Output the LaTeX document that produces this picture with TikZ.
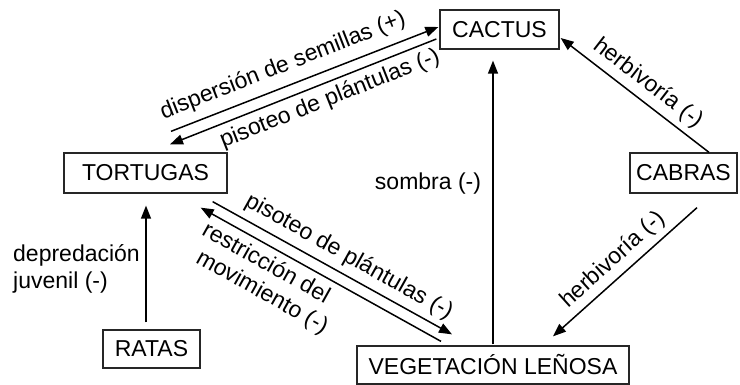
\documentclass[tikz,border=0pt]{standalone}
\usepackage{fontspec}
\setmainfont{Liberation Sans}
\usetikzlibrary{arrows.meta}
\begin{document}
\begin{tikzpicture}[x=1pt,y=-1pt,
  box/.style={draw=black!85, line width=1.3pt, inner sep=0pt},
  conn/.style={line width=1.5pt, -{Triangle[length=13pt,width=10pt]}},
  lbl/.style={inner sep=0pt},
  every node/.style={font=\fontsize{23}{27}\selectfont}]
\useasboundingbox (0,0) rectangle (740,385);
% nodes
\node[box, minimum width=119pt, minimum height=39pt] (cactus) at (499.5,29.5) {CACTUS};
\node[box, minimum width=163pt, minimum height=40pt] (tort) at (145.5,173) {TORTUGAS};
\node[box, minimum width=97pt, minimum height=38pt] (ratas) at (151.5,349) {RATAS};
\node[box, minimum width=272pt, minimum height=38pt] (veg) at (493,365) {VEGETACIÓN LEÑOSA};
\node[box, minimum width=107pt, minimum height=40pt] (cabras) at (683.5,173) {CABRAS};
% connectors
\draw[conn] ([shift={(25.5,-21)}]tort.north) -- ([shift={(-1,-2.5)}]cactus.west);
\draw[conn] ([shift={(-3,9.5)}]cactus.west) -- ([shift={(24.5,-8)}]tort.north);
\draw[conn] ([shift={(0,-1)}]veg.north) -- ([shift={(-6.5,11)}]cactus.south);
\draw[conn] ([shift={(25.5,0)}]cabras.north) -- ([shift={(1,8.5)}]cactus.east);
\draw[conn] ([shift={(13.5,14)}]cabras.south) -- ([shift={(60,-9)}]veg.north);
\draw[conn] ([shift={(-5.5,-7)}]ratas.north) -- ([shift={(0.5,12)}]tort.south);
\draw[conn] ([shift={(-15,8)}]tort.south east) -- ([shift={(-41,-11)}]veg.north);
\draw[conn] ([shift={(-52,-4)}]veg.north) -- ([shift={(-27,14)}]tort.south east);
% labels
\node[lbl, rotate=21.4] (l1) at (283,66) {dispersión de semillas (+)};
\node[lbl, rotate=21.6] (l2) at (330,99) {pisoteo de plántulas (-)};
\node[lbl] (l3) at (428,184) {sombra (-)};
\node[lbl, anchor=west, align=left] (l4) at (13,269) {depredación\\juvenil (-)};
\node[lbl, rotate=-29.2] (l5) at (349,257) {pisoteo de plántulas (-)};
\node[lbl, rotate=-29.2, align=left] (l6) at (265,279) {restricción del\\\hspace*{8pt}movimiento (-)};
\node[lbl, rotate=-37.7] (l7) at (648.5,83.5) {herbivoría (-)};
\node[lbl, rotate=42.1] (l8) at (613,260) {herbivoría (-)};
\end{tikzpicture}
\end{document}
